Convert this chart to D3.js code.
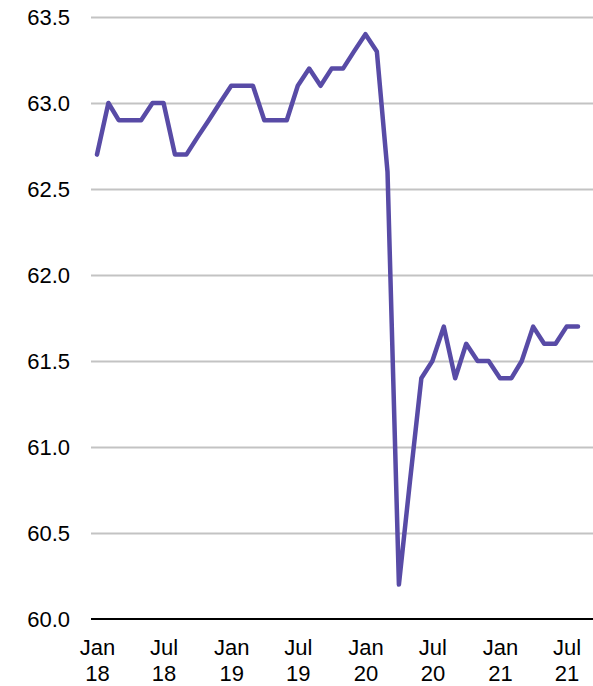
<!DOCTYPE html>
<html>
<head>
<meta charset="utf-8">
<script src="https://cdn.jsdelivr.net/npm/d3@7"></script>
<style>
  body { margin: 0; background: #fff; }
  svg text { font-family: "Liberation Sans", Arial, sans-serif; fill: #000; }
</style>
</head>
<body>
<div id="chart"></div>
<script>
// monthly values, Jan 2018 - Aug 2021
const months = ["2018-01","2018-02","2018-03","2018-04","2018-05","2018-06","2018-07","2018-08","2018-09","2018-10","2018-11","2018-12",
  "2019-01","2019-02","2019-03","2019-04","2019-05","2019-06","2019-07","2019-08","2019-09","2019-10","2019-11","2019-12",
  "2020-01","2020-02","2020-03","2020-04","2020-05","2020-06","2020-07","2020-08","2020-09","2020-10","2020-11","2020-12",
  "2021-01","2021-02","2021-03","2021-04","2021-05","2021-06","2021-07","2021-08"];
const values = [62.7,63.0,62.9,62.9,62.9,63.0,63.0,62.7,62.7,62.8,62.9,63.0,
  63.1,63.1,63.1,62.9,62.9,62.9,63.1,63.2,63.1,63.2,63.2,63.3,
  63.4,63.3,62.6,60.2,60.8,61.4,61.5,61.7,61.4,61.6,61.5,61.5,
  61.4,61.4,61.5,61.7,61.6,61.6,61.7,61.7];
const yTicks = [60.0,60.5,61.0,61.5,62.0,62.5,63.0,63.5];
const xTicks = ["2018-01","2018-07","2019-01","2019-07","2020-01","2020-07","2021-01","2021-07"];

const width = 593, height = 686;
const parse = d3.timeParse("%Y-%m");
const data = months.map((m, i) => ({date: parse(m), value: values[i]}));

const svg = d3.select("#chart").append("svg")
    .attr("width", width)
    .attr("height", height);

const x = d3.scaleTime()
    .domain(d3.extent(data, d => d.date))
    .range([97, 578]);
const y = d3.scaleLinear()
    .domain([60, 63.5])
    .range([619, 17]);

// gridlines + y labels
const yAxis = svg.append("g")
    .attr("transform", "translate(91,0)")
    .call(d3.axisLeft(y).tickValues(yTicks).tickFormat(d3.format(".1f")).tickSize(-(width - 91)).tickPadding(21));
yAxis.select(".domain").remove();
yAxis.selectAll(".tick line")
    .attr("stroke-width", 2)
    .attr("stroke", d => d === 60 ? "none" : "#c3c3c3");
yAxis.selectAll(".tick text")
    .style("font-size", "22px")
    .attr("dy", "0.36em");

// x axis baseline
svg.append("line")
    .attr("x1", 91).attr("x2", width)
    .attr("y1", y(60)).attr("y2", y(60))
    .attr("stroke", "#000")
    .attr("stroke-width", 2);

// x labels, two rows
const xAxis = svg.append("g")
    .attr("transform", "translate(0," + y(60) + ")")
    .call(d3.axisBottom(x).tickValues(xTicks.map(parse)).tickSize(0).tickFormat(""));
xAxis.select(".domain").remove();
xAxis.selectAll(".tick").each(function(d) {
    const t = d3.select(this).append("text")
        .attr("text-anchor", "middle")
        .style("font-size", "22px");
    t.append("tspan").attr("x", 0).attr("y", 36).text(d3.timeFormat("%b")(d));
    t.append("tspan").attr("x", 0).attr("y", 62).text(d3.timeFormat("%y")(d));
});

// series line
const line = d3.line()
    .x(d => x(d.date))
    .y(d => y(d.value));
svg.append("path")
    .datum(data)
    .attr("fill", "none")
    .attr("stroke", "#584ba6")
    .attr("stroke-width", 4.5)
    .attr("stroke-linejoin", "round")
    .attr("stroke-linecap", "round")
    .attr("d", line);
</script>
</body>
</html>
